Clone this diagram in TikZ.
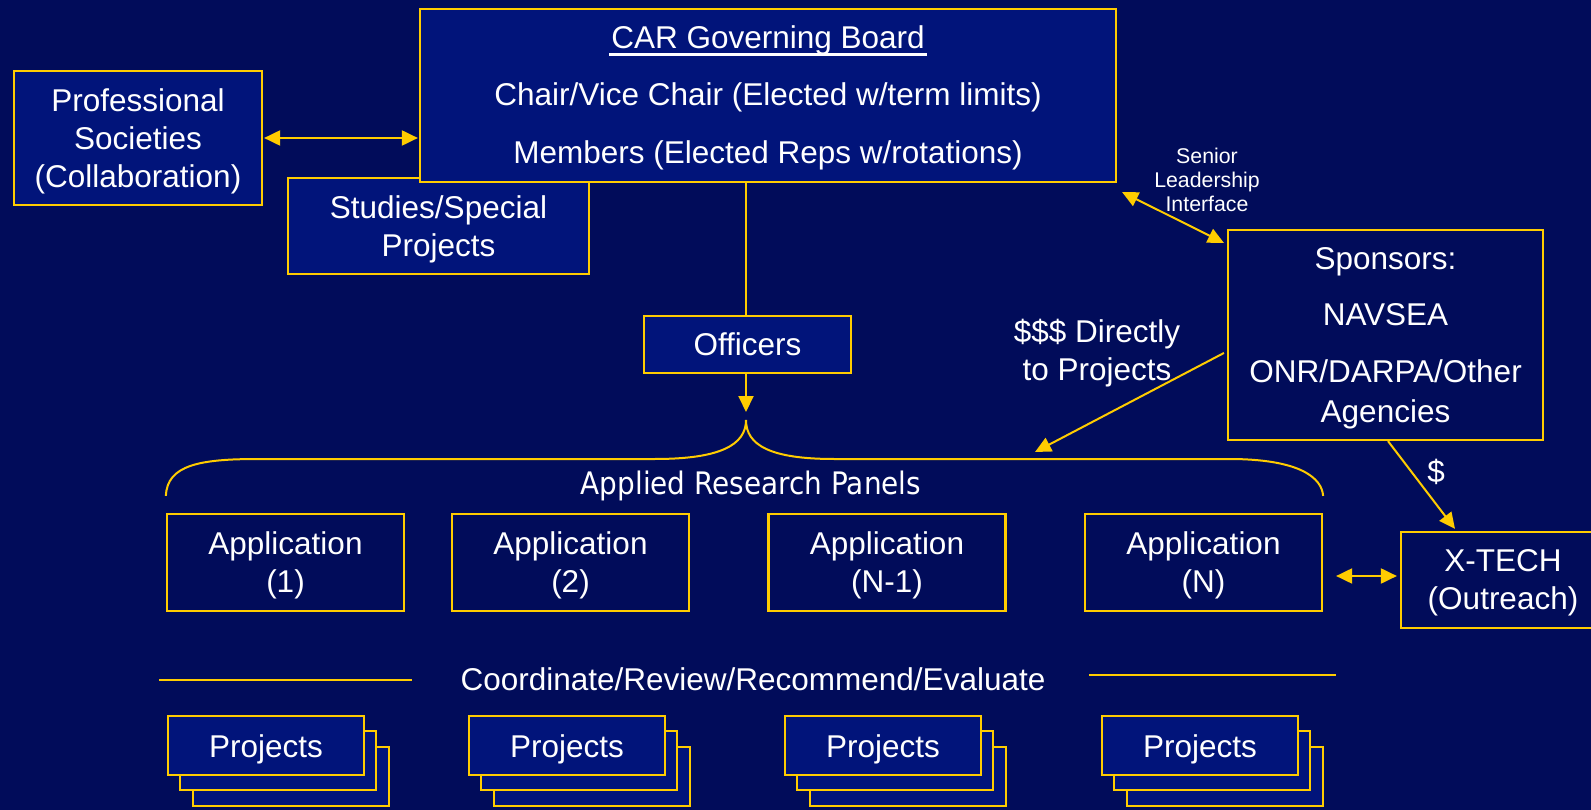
\documentclass[tikz,border=0pt]{standalone}
\usepackage{fontspec}
\setmainfont{Liberation Sans}
\newfontfamily\panelfont[FakeStretch=0.9]{DejaVu Sans}
\usetikzlibrary{arrows.meta}
\definecolor{bgc}{RGB}{1,12,90}
\definecolor{boxc}{RGB}{1,20,122}
\definecolor{gold}{RGB}{255,204,0}
\newcommand\myuline[1]{\setbox0\hbox{#1}\rlap{\kern-2pt\rule[-7pt]{\dimexpr\wd0+4pt\relax}{2.5pt}}\box0}
\newcommand\projstack[3]{%
  \draw[fbox] (#2+26,#3+32) rectangle ++(196,59);
  \draw[fbox] (#2+13,#3+16) rectangle ++(196,59);
  \node[fbox, minimum width=196, minimum height=59, anchor=north west] (#1) at (#2,#3) {Projects};}
\begin{document}
\begin{tikzpicture}[x=1pt,y=-1pt,
  every node/.style={text=white, font=\fontsize{31.5}{38}\selectfont, align=center, inner sep=0pt},
  fbox/.style={draw=gold, line width=2.2pt, fill=boxc, text depth=-4pt},
  obox/.style={draw=gold, line width=2.2pt, text depth=-4pt},
  conn/.style={draw=gold, line width=2pt},
  tip/.style={-{Triangle[length=16pt,width=15pt]}, gold},
  dbl/.style={{Triangle[length=16pt,width=15pt]}-{Triangle[length=16pt,width=15pt]}, gold},
  small/.style={font=\fontsize{21.3}{24}\selectfont},
]
\fill[bgc] (0,0) rectangle (1591,810);
\useasboundingbox (0,0) rectangle (1591,810);

% top boxes
\node[fbox, minimum width=248, minimum height=134] (prof) at (138,138) {Professional\\Societies\\(Collaboration)};
\node[fbox, minimum width=301, minimum height=96] (studies) at (438.5,226) {Studies/Special\\Projects};
\node[fbox, minimum width=696, minimum height=173] (board) at (768,95.5) {};
\node[anchor=center] (boardtext) at ([yshift=-2.5pt]board.center)
  {\myuline{CAR Governing Board}\\[18.5pt] Chair/Vice Chair (Elected w/term limits)\\[20pt] Members (Elected Reps w/rotations)};
\node[fbox, minimum width=207, minimum height=57] (officers) at (747.5,344.5) {Officers};
\node[obox, minimum width=315, minimum height=210] (sponsors) at (1385.5,335)
  {Sponsors:\\[18pt] NAVSEA\\[19pt] ONR/DARPA/Other\\[2pt]Agencies};

% labels
\node[small] (senior) at (1207,180) {Senior\\Leadership\\Interface};
\node (direct) at (1097,353) {\$\$\$ Directly\\to Projects};
\node (dollar) at (1436,472) {\$};
\node[font=\panelfont\fontsize{31}{36}\selectfont] (arp) at (751,486) {Applied Research Panels};
\node (coord) at (753,679) {Coordinate/Review/Recommend/Evaluate};

% applications
\node[obox, minimum width=237, minimum height=97] (app1) at (285.5,562.5) {Application\\(1)};
\node[obox, minimum width=237, minimum height=97] (app2) at (570.5,562.5) {Application\\(2)};
\node[obox, minimum width=237, minimum height=97] (app3) at (887,562.5) {Application\\(N-1)};
\node[obox, minimum width=237, minimum height=97] (app4) at (1203.5,562.5) {Application\\(N)};
\node[obox, minimum width=204, minimum height=96] (xtech) at (1503,580) {X-TECH\\(Outreach)};

% projects
\projstack{p1}{167}{715}
\projstack{p2}{468}{715}
\projstack{p3}{784}{715}
\projstack{p4}{1101}{715}

% connectors
\draw[dbl, line width=2pt, shorten <=1pt, shorten >=1pt] (prof.east) -- (prof.east -| board.west);
\coordinate (apex) at (746,420);
\draw[conn] (apex |- board.south) -- (apex |- officers.north);
\draw[tip, line width=2pt] (apex |- officers.south) -- ([yshift=8pt]apex);
\draw[conn] (app1.north west) ++(0,-17) .. controls (167,465) and (200,459) .. (258,459)
  -- (655,459) .. controls (720,459) and (746,445) .. (apex)
  .. controls (746,445) and (770,459) .. (834,459)
  -- (1229,459) .. controls (1300,459) and (1322,478) .. ([yshift=17pt]app4.north east);
\draw[dbl, line width=2pt] ([shift={(5,9)}]board.south east) -- ([shift={(-3,14)}]sponsors.north west);
\coordinate (dtip) at (1035,452);
\draw[tip, line width=2pt] ([shift={(-3,18)}]sponsors.west) -- (dtip);
\draw[tip, line width=2pt] ([shift={(2.5,0)}]sponsors.south) -- ([shift={(-48,-2)}]xtech.north);
\coordinate (xa) at ([shift={(13,13.5)}]app4.east);
\draw[dbl, line width=2pt, shorten >=3pt] (xa) -- (xa -| xtech.west);
\draw[conn] (159,680) -- (412,680);
\draw[conn] (1089,675) -- (1336,675);
\end{tikzpicture}
\end{document}
